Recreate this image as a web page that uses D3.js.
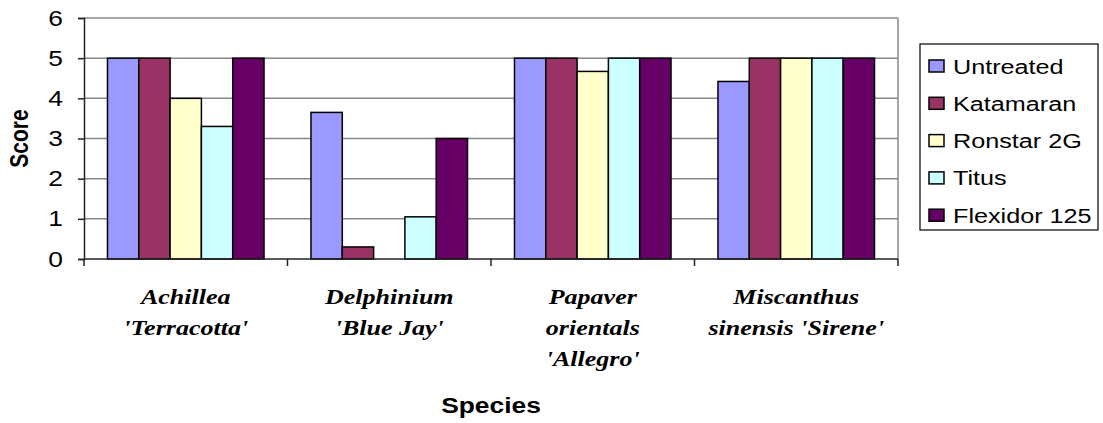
<!DOCTYPE html>
<html>
<head>
<meta charset="utf-8">
<script src="https://cdn.jsdelivr.net/npm/d3@7"></script>
<style>
  html, body { margin: 0; padding: 0; background: #fff; }
  svg { display: block; }
</style>
</head>
<body>
<svg id="chart" width="1103" height="423"></svg>
<script>
// Herbicide tolerance scores per species and treatment
const speciesLines = [
  ["Achillea", "'Terracotta'"],
  ["Delphinium", "'Blue Jay'"],
  ["Papaver", "orientals", "'Allegro'"],
  ["Miscanthus", "sinensis 'Sirene'"]
];
const species = speciesLines.map(l => l.join(" "));
const treatments = ["Untreated", "Katamaran", "Ronstar 2G", "Titus", "Flexidor 125"];
const untreated = [5, 3.65, 5, 4.42];
const katamaran = [5, 0.3, 5, 5];
const ronstar   = [4, 0, 4.67, 5];
const titus     = [3.3, 1.05, 5, 5];
const flexidor  = [5, 3, 5, 5];
const yTicks = [0, 1, 2, 3, 4, 5, 6];
const colors = ["#9999FF", "#993366", "#FFFFCC", "#CCFFFF", "#660066"];

const seriesValues = [untreated, katamaran, ronstar, titus, flexidor];

const svg = d3.select("#chart");
const plotLeft = 84, plotRight = 898, plotTop = 18, plotBottom = 259;
const sx = 1.2; // horizontal glyph stretch

const x = d3.scaleBand().domain(species).range([plotLeft, plotRight]).paddingInner(0).paddingOuter(0);
const xs = d3.scaleBand().domain(treatments).range([0, x.bandwidth()]).paddingInner(0).paddingOuter(0.75);
const y = d3.scaleLinear().domain([0, 6]).range([plotBottom, plotTop]);

const sans = "Arial, 'Liberation Sans', sans-serif";
const serif = "'Times New Roman', 'Liberation Serif', serif";

// gridlines
svg.append("g")
  .selectAll("line")
  .data(yTicks.filter(d => d > 0))
  .join("line")
  .attr("x1", plotLeft).attr("x2", plotRight)
  .attr("y1", d => y(d)).attr("y2", d => y(d))
  .attr("stroke", "#888").attr("stroke-width", 1.5);

// right border of plot area
svg.append("line")
  .attr("x1", plotRight).attr("x2", plotRight)
  .attr("y1", y(6)).attr("y2", y(0))
  .attr("stroke", "#888").attr("stroke-width", 1.5);

// bars
const groups = svg.append("g")
  .selectAll("g")
  .data(species)
  .join("g")
  .attr("transform", d => `translate(${x(d)},0)`);

groups.selectAll("rect")
  .data((s, i) => treatments.map((t, k) => ({ t, v: seriesValues[k][i], c: colors[k] })))
  .join("rect")
  .attr("x", d => xs(d.t))
  .attr("width", xs.bandwidth())
  .attr("y", d => y(d.v))
  .attr("height", d => y(0) - y(d.v))
  .attr("fill", d => d.c)
  .attr("stroke", "#000")
  .attr("stroke-width", 1.5);

// y axis
const yAxis = svg.append("g")
  .attr("transform", `translate(${plotLeft},0)`)
  .call(d3.axisLeft(y).tickValues(yTicks).tickSize(6).tickPadding(0).tickFormat(d3.format("d")));
yAxis.select(".domain").attr("stroke", "#222").attr("stroke-width", 1.5);
yAxis.selectAll(".tick line").attr("stroke", "#222").attr("stroke-width", 1.5);
yAxis.selectAll(".tick text")
  .attr("x", null)
  .attr("transform", "translate(-21,0) scale(1.2,1)")
  .attr("font-family", sans).attr("font-size", 22).attr("fill", "#000");

// x axis
const xAxis = svg.append("g")
  .attr("transform", `translate(0,${plotBottom})`);
xAxis.append("line")
  .attr("x1", plotLeft).attr("x2", plotRight)
  .attr("stroke", "#222").attr("stroke-width", 1.5);
const boundaries = species.map(s => x(s)).concat([x(species[species.length - 1]) + x.bandwidth()]);
xAxis.selectAll("line.tk")
  .data(boundaries)
  .join("line")
  .attr("class", "tk")
  .attr("x1", d => d).attr("x2", d => d)
  .attr("y1", 0).attr("y2", 7)
  .attr("stroke", "#222").attr("stroke-width", 1.5);

// category labels
const catLabels = svg.append("g")
  .selectAll("text")
  .data(speciesLines)
  .join("text")
  .attr("transform", (d, i) => `translate(${x(species[i]) + x.bandwidth() / 2},304) scale(1.24,1)`)
  .attr("text-anchor", "middle")
  .attr("font-family", serif).attr("font-size", 21)
  .attr("font-weight", "bold").attr("font-style", "italic")
  .attr("fill", "#000");
catLabels.selectAll("tspan")
  .data(d => d)
  .join("tspan")
  .attr("x", 0)
  .attr("y", (d, i) => i * 31)
  .text(d => d);

// axis titles
svg.append("text")
  .attr("transform", `translate(${(plotLeft + plotRight) / 2},413) scale(${sx},1)`)
  .attr("text-anchor", "middle")
  .attr("font-family", sans).attr("font-size", 22).attr("font-weight", "bold")
  .text("Species");

svg.append("text")
  .attr("transform", `translate(28,${(plotTop + plotBottom) / 2}) scale(${sx},1) rotate(-90)`)
  .attr("text-anchor", "middle")
  .attr("font-family", sans).attr("font-size", 21).attr("font-weight", "bold")
  .text("Score");

// legend
const legend = svg.append("g");
legend.append("rect")
  .attr("x", 920).attr("y", 44).attr("width", 178).attr("height", 186)
  .attr("fill", "#fff").attr("stroke", "#000").attr("stroke-width", 1.2);
const items = legend.selectAll("g.item")
  .data(treatments)
  .join("g")
  .attr("class", "item")
  .attr("transform", (d, i) => `translate(0,${66 + i * 37.3})`);
items.append("rect")
  .attr("x", 929).attr("y", -6).attr("width", 15).attr("height", 12)
  .attr("fill", (d, i) => colors[i])
  .attr("stroke", "#000").attr("stroke-width", 1.5);
items.append("text")
  .attr("transform", `translate(953,7.5) scale(${sx},1)`)
  .attr("font-family", sans).attr("font-size", 21)
  .attr("fill", "#000")
  .text(d => d);
</script>
</body>
</html>
